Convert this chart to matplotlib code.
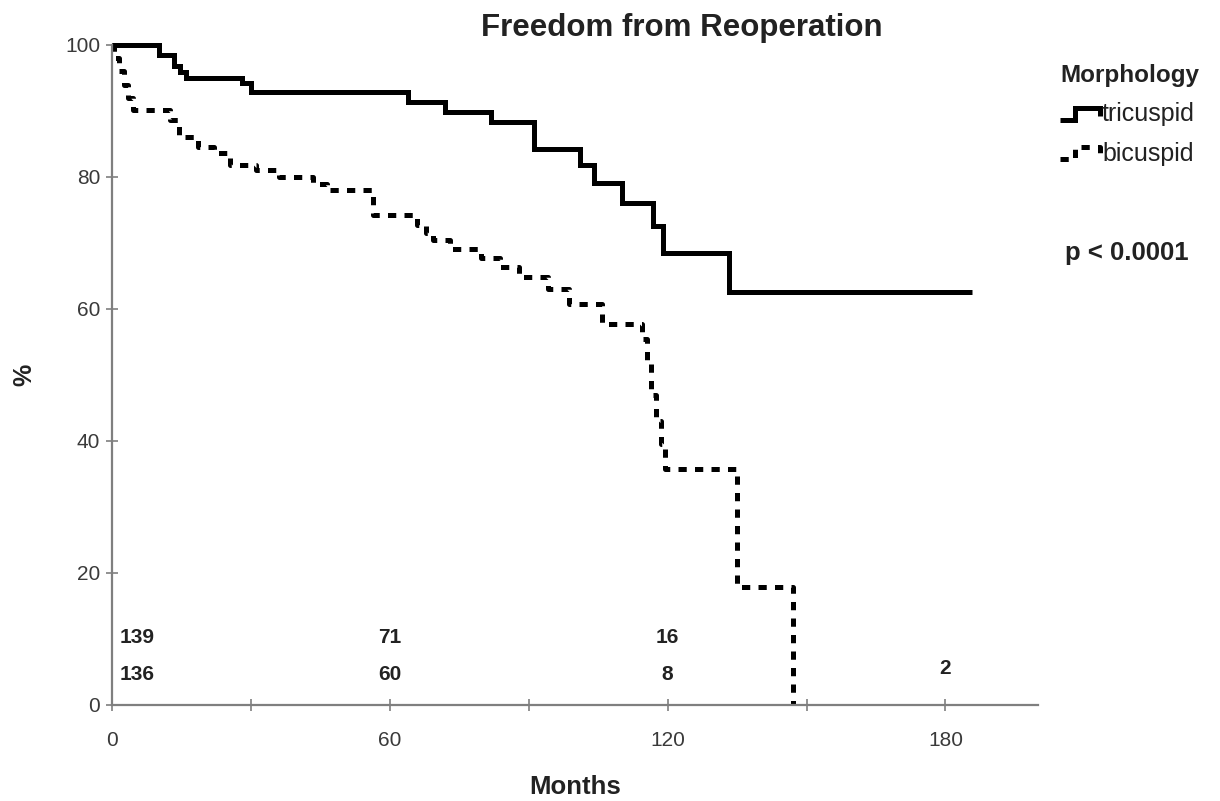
import matplotlib
matplotlib.use("Agg")
import matplotlib.pyplot as plt
from matplotlib.lines import Line2D
from matplotlib.legend_handler import HandlerLine2D

plt.rcParams['font.family'] = ['Liberation Sans', 'DejaVu Sans']

# ---- data ----
tri_t = [0, 10.2, 13.4, 14.6, 15.9, 28, 30, 64, 72, 81.9, 91.1, 101.1, 104, 110.1, 116.9, 119, 133.3, 185.7]
tri_s = [100, 98.5, 96.8, 95.9, 95.0, 94.2, 92.9, 91.4, 89.9, 88.4, 84.2, 81.8, 79.1, 76.1, 72.6, 68.5, 62.6, 62.6]

bic_t = [0, 0.5, 1.5, 2.5, 3.5, 4.5, 12.5, 14.5, 18.5, 22, 25.5, 31, 36, 43.5, 46.5, 56.4, 65.8, 67.8,
         69.3, 73, 79.8, 83.8, 88, 94.2, 98.8, 105.9, 114.5, 115.5, 116.5, 117.5, 118.5, 119.5, 134.9, 147.1]
bic_s = [100, 98, 96, 94, 92, 90.2, 88.6, 86.1, 84.6, 83.6, 81.8, 81.0, 80.0, 79.0, 78.0, 74.2, 72.7, 71.5,
         70.5, 69.1, 67.8, 66.3, 64.8, 63.0, 60.8, 57.8, 55.5, 52, 47, 43, 39.5, 35.7, 17.9, 0]

risk_times = [0, 60, 120, 180]
risk_tri = ['139', '71', '16', '2']
risk_bic = ['136', '60', '8', '']

x_ticks = [0, 60, 120, 180]
x_minor = [30, 90, 150]
y_ticks = [0, 20, 40, 60, 80, 100]
groups = ['tricuspid', 'bicuspid']

# ---- figure ----
fig = plt.figure(figsize=(12.2, 8.01), dpi=100)
ax = fig.add_axes([112 / 1220, 96 / 801, 926 / 1220, 660 / 801])

lw = 3.6
dots = (0, (1.65, 1.65))
l1, = ax.step(tri_t, tri_s, where='post', color='black', lw=lw, clip_on=False,
              solid_joinstyle='miter', solid_capstyle='butt', label=groups[0])
l2, = ax.step(bic_t, bic_s, where='post', color='black', lw=lw, ls=dots, clip_on=False,
              dash_capstyle='butt', label=groups[1])

ax.set_xlim(0, 200)
ax.set_ylim(0, 100)
for s in ['top', 'right']:
    ax.spines[s].set_visible(False)
for s in ['left', 'bottom']:
    ax.spines[s].set_color('#7f7f7f')
    ax.spines[s].set_linewidth(1.6)

ax.set_xticks(x_ticks)
ax.set_xticks(x_minor, minor=True)
ax.set_yticks(y_ticks)
ax.tick_params(axis='both', which='both', direction='inout', length=9, width=1.2,
               color='#7f7f7f', labelsize=15, labelcolor='#3a3a3a')
ax.tick_params(axis='x', pad=14)
ax.tick_params(axis='y', pad=4)

ax.set_xlabel('Months', fontsize=18.5, fontweight='bold', color='#222222')
ax.xaxis.set_label_coords(0.5, -(787 - 705) / 660, transform=ax.transAxes)
ax.xaxis.label.set_va('center')
ax.set_ylabel('%', fontsize=18, fontweight='bold', color='#222222')
ax.yaxis.set_label_coords(-(112 - 36) / 926, 0.5)

# numbers at risk
for t, a, b in zip(risk_times, risk_tri, risk_bic):
    xo = t + (5.4 if t == 0 else 0)
    if b:
        ax.text(xo, 10.3, a, ha='center', va='center', fontsize=15, fontweight='bold', color='#222222')
        ax.text(xo, 4.6, b, ha='center', va='center', fontsize=15, fontweight='bold', color='#222222')
    else:
        ax.text(xo, 5.5, a, ha='center', va='center', fontsize=15, fontweight='bold', color='#222222')

fig.text(682 / 1220, 1 - 28 / 801, 'Freedom from Reoperation', ha='center', va='center',
         fontsize=22.5, fontweight='bold', color='#222222')
fig.text(1065 / 1220, 1 - 253 / 801, 'p < 0.0001', ha='left', va='center',
         fontsize=18.5, fontweight='bold', color='#222222')


class StepHandler(HandlerLine2D):
    def create_artists(self, legend, orig_handle, xdescent, ydescent, width, height, fontsize, trans):
        x0 = -xdescent
        y0 = -ydescent
        xs = [x0, x0 + 0.38 * width, x0 + 0.38 * width, x0 + width, x0 + width]
        ys = [y0 + 0.1 * height, y0 + 0.1 * height, y0 + 0.8 * height, y0 + 0.8 * height, y0 + 0.3 * height]
        line = Line2D(xs, ys)
        self.update_prop(line, orig_handle, legend)
        line.set_transform(trans)
        return [line]


leg = fig.legend(handles=[l1, l2], labels=groups, loc='upper left',
                 bbox_to_anchor=(1060 / 1220, 1 - 64 / 801), frameon=False,
                 title='Morphology', alignment='left', fontsize=18, handlelength=1.6,
                 handletextpad=0.08, labelspacing=0.62, borderpad=0, borderaxespad=0,
                 handler_map={Line2D: StepHandler()})
leg.get_title().set_fontweight('bold')
leg.get_title().set_fontsize(17.5)
leg.get_title().set_color('#222222')
for t in leg.get_texts():
    t.set_color('#222222')

fig.savefig('out.png', dpi=100)
